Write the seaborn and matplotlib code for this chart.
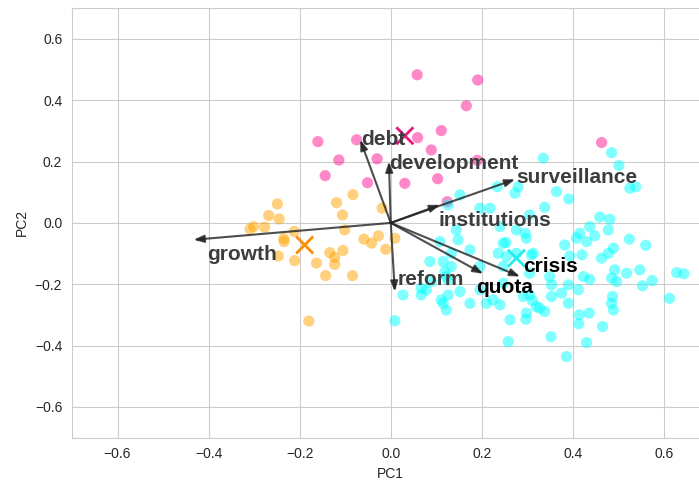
import pandas as pd
import numpy as np
import matplotlib.pyplot as plt
import seaborn as sns

# --- data ---
orange_x = [-0.249, -0.268, -0.245, -0.309, -0.301, -0.277, -0.212, -0.235, -0.234, -0.247,
            -0.211, -0.163, -0.143, -0.134, -0.123, -0.123, -0.105, -0.084, -0.101, -0.106,
            -0.119, -0.083, -0.059, -0.042, -0.027, -0.011, -0.019, 0.009, -0.180]
orange_y = [0.062, 0.024, 0.013, -0.020, -0.012, -0.014, -0.028, -0.051, -0.061, -0.108,
            -0.123, -0.131, -0.172, -0.097, -0.112, -0.135, -0.090, -0.172, -0.023, 0.026,
            0.066, 0.092, -0.053, -0.066, -0.042, -0.086, 0.048, -0.050, -0.320]

pink_x = [0.058, 0.191, 0.166, 0.111, 0.059, -0.075, -0.160, -0.114, -0.144, 0.089,
          -0.030, 0.190, 0.103, 0.031, -0.051, 0.124, 0.463]
pink_y = [0.483, 0.466, 0.382, 0.301, 0.278, 0.271, 0.265, 0.205, 0.154, 0.238,
          0.209, 0.204, 0.144, 0.129, 0.131, 0.069, 0.262]

cyan_x = [0.009, 0.027, 0.067, 0.078, 0.111, 0.122, 0.115, 0.133, 0.119, 0.152,
          0.174, 0.196, 0.210, 0.225, 0.240, 0.262, 0.258, 0.298, 0.291, 0.320,
          0.196, 0.218, 0.144, 0.148, 0.108, 0.174, 0.133, 0.247, 0.236, 0.295,
          0.276, 0.313, 0.086, 0.126, 0.067, 0.335, 0.485, 0.501, 0.525, 0.538,
          0.152, 0.234, 0.273, 0.364, 0.391, 0.338, 0.240, 0.459, 0.481, 0.478,
          0.437, 0.415, 0.408, 0.430, 0.448, 0.524, 0.560, 0.489, 0.478, 0.463,
          0.420, 0.393, 0.382, 0.309, 0.253, 0.547, 0.574, 0.518, 0.496, 0.485,
          0.437, 0.412, 0.390, 0.353, 0.353, 0.390, 0.414, 0.436, 0.465, 0.487,
          0.485, 0.489, 0.612, 0.628, 0.644, 0.297, 0.352, 0.430, 0.386, 0.338,
          0.311, 0.126, 0.305, 0.305, 0.375, 0.423, 0.247, 0.122, 0.089, 0.553,
          0.492, 0.413, 0.327, 0.349, 0.276, 0.280, 0.305, 0.298, 0.126, 0.196,
          0.254, 0.247, 0.115]
cyan_y = [-0.319, -0.235, -0.235, -0.218, -0.251, -0.284, -0.126, -0.142, -0.159, -0.224,
          -0.262, -0.218, -0.262, -0.251, -0.267, -0.316, -0.387, -0.294, -0.240, -0.273,
          0.048, 0.048, -0.023, -0.055, -0.061, -0.088, -0.099, -0.066, -0.099, -0.034,
          -0.023, -0.099, -0.126, -0.186, -0.213, 0.211, 0.229, 0.187, 0.113, 0.118,
          0.091, 0.118, 0.097, 0.102, 0.078, 0.051, -0.012, 0.019, 0.012, -0.023,
          -0.012, -0.034, -0.050, -0.061, -0.042, -0.053, -0.073, -0.082, -0.099, -0.115,
          -0.104, -0.108, -0.072, -0.104, -0.064, -0.153, -0.188, -0.164, -0.191, -0.180,
          -0.184, -0.218, -0.202, -0.202, -0.240, -0.262, -0.300, -0.294, -0.338, -0.240,
          -0.262, -0.284, -0.246, -0.162, -0.166, -0.314, -0.371, -0.390, -0.436, -0.289,
          -0.253, -0.235, -0.164, -0.235, -0.229, -0.175, -0.142, -0.175, -0.191, -0.205,
          -0.153, -0.329, -0.278, -0.175, -0.099, 0.118, 0.026, -0.050, 0.059, -0.142,
          -0.110, -0.197, -0.262]

centroid_x = [-0.189, 0.031, 0.276]
centroid_y = [-0.072, 0.284, -0.115]

# loadings (arrow tips)
features = ['growth', 'debt', 'development', 'surveillance', 'institutions', 'crisis', 'quota', 'reform']
load_pc1 = [-0.433, -0.067, -0.004, 0.273, 0.108, 0.284, 0.203, 0.009]
load_pc2 = [-0.055, 0.271, 0.200, 0.142, 0.059, -0.175, -0.166, -0.224]

# where each label sits (left edge, vertical centre)
label_x = [-0.404, -0.064, -0.004, 0.275, 0.105, 0.290, 0.187, 0.015]
label_y = [-0.104, 0.271, 0.195, 0.147, 0.007, -0.143, -0.209, -0.183]
label_col = ['#3d3d3d', '#3d3d3d', '#3d3d3d', '#3d3d3d', '#3d3d3d', 'black', 'black', '#3d3d3d']

df = pd.DataFrame({
    'PC1': orange_x + pink_x + cyan_x,
    'PC2': orange_y + pink_y + cyan_y,
    'cluster': ['a'] * len(orange_x) + ['b'] * len(pink_x) + ['c'] * len(cyan_x),
})
cent = pd.DataFrame({'PC1': centroid_x, 'PC2': centroid_y, 'cluster': ['a', 'b', 'c']})

sns.set_style('whitegrid')
plt.rcParams['font.family'] = ['Liberation Sans', 'DejaVu Sans']

fig = plt.figure(figsize=(6.99, 4.83), dpi=100)
ax = fig.add_axes([0.103, 0.094, 0.912, 0.889])

sns.scatterplot(data=df, x='PC1', y='PC2', hue='cluster',
                palette={'a': 'orange', 'b': 'deeppink', 'c': 'cyan'},
                s=65, alpha=0.5, linewidth=0, legend=False, ax=ax)
sns.scatterplot(data=cent, x='PC1', y='PC2', hue='cluster',
                palette={'a': 'darkorange', 'b': '#e6197e', 'c': '#22eeee'},
                marker='x', s=150, linewidth=2, legend=False, ax=ax)

for i, f in enumerate(features):
    ax.annotate('', xy=(load_pc1[i], load_pc2[i]), xytext=(0, 0),
                arrowprops=dict(arrowstyle='-|>,head_length=0.6,head_width=0.22',
                                color='#222222', lw=1.5, alpha=0.8,
                                shrinkA=0, shrinkB=0))
    ax.text(label_x[i], label_y[i], f, fontsize=15, fontweight='bold',
            color=label_col[i], ha='left', va='center')

ax.set_xlim(-0.7, 0.7)
ax.set_ylim(-0.7, 0.7)
ax.set_xticks([-0.6, -0.4, -0.2, 0.0, 0.2, 0.4, 0.6])
ax.set_yticks([-0.6, -0.4, -0.2, 0.0, 0.2, 0.4, 0.6])
ax.set_xlabel('PC1', fontsize=10)
ax.set_ylabel('PC2', fontsize=10)
ax.tick_params(labelsize=10)

plt.savefig('out.png', dpi=100)
